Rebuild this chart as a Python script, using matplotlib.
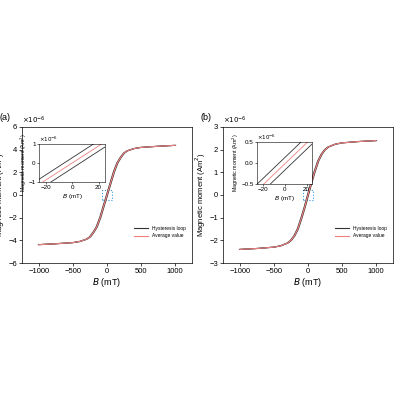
import numpy as np
import matplotlib
matplotlib.use("Agg")
import matplotlib.pyplot as plt
from matplotlib.patches import Rectangle

B = [-1000, -750, -500, -400, -300, -250, -200, -150, -100, -50, 0, 50, 100, 150, 200, 250, 300, 400, 500, 750, 1000]
Ma = [-4.38, -4.3, -4.2, -4.1, -3.9, -3.7, -3.3, -2.8, -2.0, -1.0, 0, 1.0, 2.0, 2.8, 3.3, 3.7, 3.9, 4.1, 4.2, 4.3, 4.38]
Mb = [-2.4, -2.36, -2.3, -2.24, -2.12, -2.0, -1.8, -1.5, -1.05, -0.55, 0, 0.55, 1.05, 1.5, 1.8, 2.0, 2.12, 2.24, 2.3, 2.36, 2.4]
shift = 8  # mT coercive offset of the loop branches

inset_x = [-25, 25]
inset_a_avg = [-1.12, 1.12]
inset_a_up = [-0.85, 1.4]
inset_a_lo = [-1.4, 0.85]
inset_b_avg = [-0.65, 0.6]
inset_b_up = [-0.5, 0.75]
inset_b_lo = [-0.8, 0.45]

plt.rcParams['font.family'] = ['Liberation Sans', 'DejaVu Sans']
fig = plt.figure(figsize=(4, 4), dpi=100)

def panel(rect, M, ylim, yticks, label, irect, ilim, iticks, iavg, iup, ilo, boxh):
    ax = fig.add_axes(rect)
    Bx = np.array(B, float)
    ax.plot(Bx + shift, M, color='#333333', lw=0.8)
    ax.plot(Bx - shift, M, color='#333333', lw=0.8, label='Hysteresis loop')
    ax.plot(Bx, M, color='#f08080', lw=0.8, label='Average value')
    ax.set_xlim(-1250, 1250)
    ax.set_ylim(*ylim)
    ax.set_yticks(yticks)
    ax.set_xticks([-1000, -500, 0, 500, 1000])
    ax.tick_params(labelsize=5.5, length=2, width=0.5, pad=1.5)
    for s in ax.spines.values():
        s.set_linewidth(0.5)
    ax.set_xlabel('$B$ (mT)', fontsize=6.5, labelpad=1)
    ax.set_ylabel('Magnetic moment (Am$^2$)', fontsize=5.5, labelpad=1)
    ax.text(0, 1.005, r'$\times10^{-6}$', transform=ax.transAxes, fontsize=5, va='bottom')
    ax.text(-0.13, 1.04, label, transform=ax.transAxes, fontsize=6.5, va='bottom')
    ax.legend(loc='lower right', fontsize=3.5, frameon=False, bbox_to_anchor=(0.99, 0.15),
              handlelength=3)
    ax.add_patch(Rectangle((-75, -boxh), 150, 2 * boxh, fill=False, ec='#3399dd', ls=':', lw=0.8))
    ia = fig.add_axes(irect)
    ia.plot(inset_x, iup, color='#333333', lw=0.6)
    ia.plot(inset_x, ilo, color='#333333', lw=0.6)
    ia.plot(inset_x, iavg, color='#f08080', lw=0.6)
    ia.set_xlim(-25, 25)
    ia.set_ylim(*ilim)
    ia.set_yticks(iticks)
    ia.set_xticks([-20, 0, 20])
    ia.tick_params(labelsize=4.5, length=1.5, width=0.4, pad=1)
    for s in ia.spines.values():
        s.set_linewidth(0.4)
    ia.set_xlabel('$B$ (mT)', fontsize=4.5, labelpad=1)
    ia.set_ylabel('Magnetic moment (Am$^2$)', fontsize=3.8, labelpad=0)
    ia.text(0, 1.0, r'$\times10^{-6}$', transform=ia.transAxes, fontsize=4, va='bottom')

panel([0.055, 0.3425, 0.425, 0.34], Ma, (-6, 6), [-6, -4, -2, 0, 2, 4, 6], '(a)',
      [0.098, 0.545, 0.165, 0.095], (-1, 1), [-1, 0, 1], inset_a_avg, inset_a_up, inset_a_lo, 0.45)
panel([0.5575, 0.3425, 0.425, 0.34], Mb, (-3, 3), [-3, -2, -1, 0, 1, 2, 3], '(b)',
      [0.643, 0.54, 0.137, 0.105], (-0.5, 0.5), [-0.5, 0.0, 0.5], inset_b_avg, inset_b_up, inset_b_lo, 0.2)
fig.savefig('out.png', dpi=100)
